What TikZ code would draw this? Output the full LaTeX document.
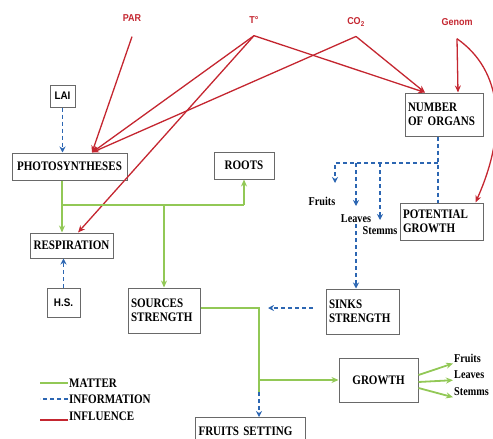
\documentclass[tikz,border=0pt]{standalone}
\usepackage{fontspec}
\setmainfont[FakeStretch=0.85]{Liberation Serif}
\setsansfont[FakeStretch=0.9]{Liberation Sans}
\usetikzlibrary{arrows.meta,positioning}
\definecolor{cGreen}{RGB}{146,200,86}
\definecolor{cBlue}{RGB}{44,102,178}
\definecolor{cRed}{RGB}{196,38,48}
\definecolor{cFrame}{RGB}{105,105,105}
\tikzset{
  basebox/.style={rectangle,draw=cFrame,line width=1pt,fill=white,
                  inner sep=3pt,font=\fontsize{13}{14}\selectfont\bfseries},
  leftbox/.style={basebox,align=left},
  keybox/.style={basebox,font=\sffamily\fontsize{11}{12}\selectfont\bfseries},
  inflabel/.style={text=cRed,inner sep=1pt,
                   font=\sffamily\fontsize{10}{11}\selectfont\bfseries},
  orglabel/.style={inner sep=1pt,font=\fontsize{12}{13}\selectfont\bfseries},
  legtext/.style={inner sep=1pt,anchor=west,
                  font=\fontsize{13}{14}\selectfont\bfseries},
  redarr/.style={-{Stealth[length=7pt,width=6pt]},line width=1.3pt,color=cRed},
  grnline/.style={line width=1.8pt,color=cGreen},
  grnarr/.style={grnline,-{Stealth[length=7pt,width=6pt]}},
  dashline/.style={line width=1.3pt,color=cBlue,dash pattern=on 4pt off 3pt},
  dasharr/.style={dashline,-{Stealth[length=6pt,width=6pt]}}
}

\begin{document}
\begin{tikzpicture}[x=1pt,y=-1pt,node distance=13pt]
  \useasboundingbox (0,0) rectangle (493,439);

  \node[inflabel] (par) at (132,18) {PAR};
  \node[inflabel] (temp) at (254,20) {T\textdegree};
  \node[inflabel] (co2) at (356,22) {CO\textsubscript{2}};
  \node[inflabel] (genom) at (457,22) {Genom};
  \coordinate[below=14pt of par] (parfoot);
  \coordinate[below=11pt of temp] (tempfoot);
  \coordinate[below=9pt of co2] (co2foot);
  \coordinate[below=12pt of genom] (genomfoot);

  \node[keybox,minimum width=25pt,minimum height=22pt] (lai) at (62.5,96) {LAI};
  \node[basebox,minimum width=115pt,minimum height=27pt] (photo) at (69.5,166.5)
      {PHOTOSYNTHESES};
  \node[basebox,minimum width=60pt,minimum height=27pt] (roots) at (244,165.5)
      {ROOTS};
  \node[basebox,minimum width=83pt,minimum height=25pt] (resp) at (71.5,245.5)
      {RESPIRATION};
  \node[keybox,minimum width=33pt,minimum height=29pt] (hs) at (63.5,302.5) {H.S.};
  \node[leftbox,text width=66pt,minimum height=45pt] (sources) at (164,310.5)
      {SOURCES\\STRENGTH};
  \node[leftbox,text width=72pt,minimum height=43pt] (organs) at (444,114.5)
      {NUMBER\\OF ORGANS};
  \node[leftbox,text width=77pt,minimum height=37pt] (potential) at (441.5,221.5)
      {POTENTIAL\\GROWTH};
  \node[leftbox,text width=67pt,minimum height=45pt] (sinks) at (362.5,311.5)
      {SINKS\\STRENGTH};
  \node[basebox,minimum width=79pt,minimum height=44pt] (growth) at (378.5,380)
      {GROWTH};
  \node[leftbox,text width=104pt,minimum height=28pt,anchor=north west]
      (fruitset) at (195,417) {FRUITS SETTING};

  \node[orglabel] (lfruits) at (322,201) {Fruits};
  \node[orglabel] (lleaves) at (356,219) {Leaves};
  \node[orglabel] (lstem) at (380,231) {Stemms};
  \node[orglabel,anchor=west] (gfruits) at (453,358) {Fruits};
  \node[orglabel,anchor=west] (gleaves) at (453,375) {Leaves};
  \node[orglabel,anchor=west] (gstem) at (453,392) {Stemms};

  \coordinate (split) at (62,205);
  \coordinate (bend) at (259,308);
  \coordinate (drop) at (259,392);
  \coordinate (hub) at (438,163);
  \coordinate (fa) at (335,183);
  \coordinate (la) at (356,206);
  \coordinate (sa) at (380,220);

  \draw[redarr] (parfoot) -- ([xshift=22.5pt]photo.north);
  \draw[redarr] (tempfoot) -- ([xshift=22.5pt]photo.north);
  \draw[redarr] (co2foot) -- ([xshift=22.5pt]photo.north);
  \draw[redarr] (tempfoot) -- ([xshift=6.5pt]resp.north);
  \draw[redarr] (tempfoot) -- ([xshift=-19pt]organs.north);
  \draw[redarr] (co2foot) -- ([xshift=-19pt]organs.north);
  \draw[redarr] (genomfoot) -- ([xshift=14pt]organs.north);
  \draw[redarr] (genomfoot) .. controls (502,70) and (508,130)
      .. ([xshift=34pt]potential.north);

  \draw[grnarr] (photo.south -| split) -- (resp.north -| split);
  \draw[grnline] (split) -- (split -| roots.south);
  \draw[grnarr] (split -| roots.south) -- (roots.south);
  \draw[grnarr] (split -| sources.north) -- (sources.north);
  \draw[grnline] (sources.east |- bend) -- (bend) -- (drop);
  \draw[grnarr] (bend |- growth.west) -- (growth.west);
  \draw[grnarr] ([yshift=5pt]growth.east) -- (gfruits.south west);
  \draw[grnarr] ([yshift=-2pt]growth.east) -- (gleaves.south west);
  \draw[grnarr] ([yshift=-8pt]growth.east) -- (gstem.south west);

  \draw[dasharr] (lai.south) -- (lai.south |- photo.north);
  \draw[dasharr] (hs.north) -- (hs.north |- resp.south);
  \draw[dasharr] (drop) -- (drop |- fruitset.north);
  \draw[dashline] (hub |- organs.south) -- (hub |- potential.north);
  \draw[dasharr] (hub) -- (hub -| fa) -- (fa);
  \draw[dasharr] (hub -| la) -- (la);
  \draw[dasharr] (hub -| sa) -- (sa);
  \draw[dasharr] (la |- lleaves.south) -- (la |- sinks.north);
  \draw[dasharr,shorten <=13pt,shorten >=9pt] (sinks.west |- bend) -- (bend);

  \node[legtext] (lmatter) at (68,383) {MATTER};
  \node[legtext] (linfo) at (68,399) {INFORMATION};
  \node[legtext] (linfl) at (68,416) {INFLUENCE};
  \draw[grnline] (lmatter.west) -- ++(-28,0);
  \draw[dashline] (linfo.west) -- ++(-28,0);
  \draw[cRed,line width=2.6pt] ([yshift=-4pt]linfl.west) -- ++(-28,0);
\end{tikzpicture}
\end{document}
